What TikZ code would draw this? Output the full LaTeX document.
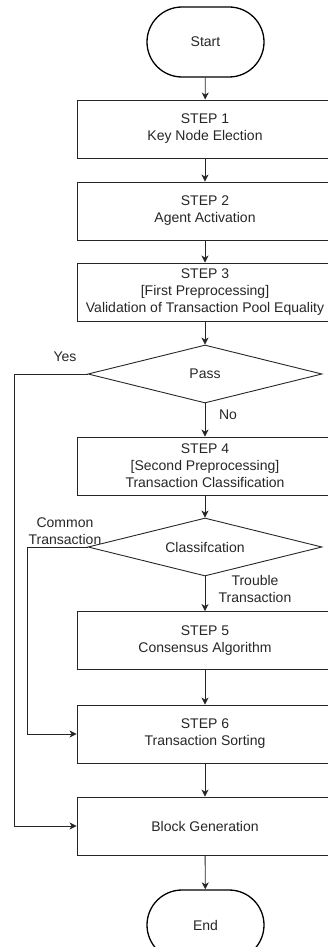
\documentclass[tikz,border=0pt]{standalone}
\usepackage{fontspec}
\setmainfont{Liberation Sans}
\usetikzlibrary{shapes.geometric,shapes.misc,arrows.meta}
\begin{document}
\begin{tikzpicture}[x=1pt,y=1pt,
  every node/.style={font=\fontsize{14}{17}\selectfont, text=black!85},
  stepbox/.style={draw=black!85, line width=0.9pt, rectangle, minimum width=256pt, minimum height=58pt, inner sep=0pt, align=center},
  term/.style={draw=black, line width=1.3pt, rounded rectangle, minimum width=117pt, minimum height=70pt, inner sep=0pt},
  decide/.style={draw=black!85, line width=0.9pt, diamond, aspect=4, minimum width=234pt, minimum height=58pt, inner sep=0pt},
  conn/.style={draw=black!85, line width=0.9pt, -{Stealth[length=7pt,width=7pt,inset=2pt]}},
  lbl/.style={align=center, inner sep=0pt}
]
\useasboundingbox (0,0) rectangle (327,-947);
\node[term] (start) at (205.5,-42) {Start};
\node[stepbox] (s1) at (205,-129) {STEP 1\\Key Node Election};
\node[stepbox] (s2) at (205,-211) {STEP 2\\Agent Activation};
\node[stepbox] (s3) at (205,-292) {STEP 3\\{[First Preprocessing]}\\Validation of Transaction Pool Equality};
\node[decide] (pass) at (205,-374) {Pass};
\node[stepbox] (s4) at (205,-466) {STEP 4\\{[Second Preprocessing]}\\Transaction Classification};
\node[decide] (cls) at (205,-547) {Classifcation};
\node[stepbox] (s5) at (205,-640.5) {STEP 5\\Consensus Algorithm};
\node[stepbox] (s6) at (205,-734) {STEP 6\\Transaction Sorting};
\node[stepbox] (blk) at (205,-826) {Block Generation};
\node[term] (end) at (205.5,-925) {End};

\coordinate (yesx) at (14,-374);
\coordinate (comx) at (27,-547);

\draw[conn] (start) -- (s1);
\draw[conn] (s1) -- (s2);
\draw[conn] (s2) -- (s3);
\draw[conn] (s3) -- (pass);
\draw[conn] (pass) -- (s4);
\draw[conn] (s4) -- (cls);
\draw[conn] (cls) -- (s5);
\draw[conn] (s5) -- (s6);
\draw[conn] (s6) -- (blk);
\draw[conn] (blk) -- (end);
\draw[conn] (pass.west) -- (yesx) |- (blk.west);
\draw[conn] (cls.west) -- (comx) |- (s6.west);

\node[lbl] (yes) at (65,-357) {Yes};
\node[lbl] (no) at (228,-415) {No};
\node[lbl] (common) at (65,-531) {Common\\Transaction};
\node[lbl] (trouble) at (255,-589) {Trouble\\Transaction};
\end{tikzpicture}
\end{document}
